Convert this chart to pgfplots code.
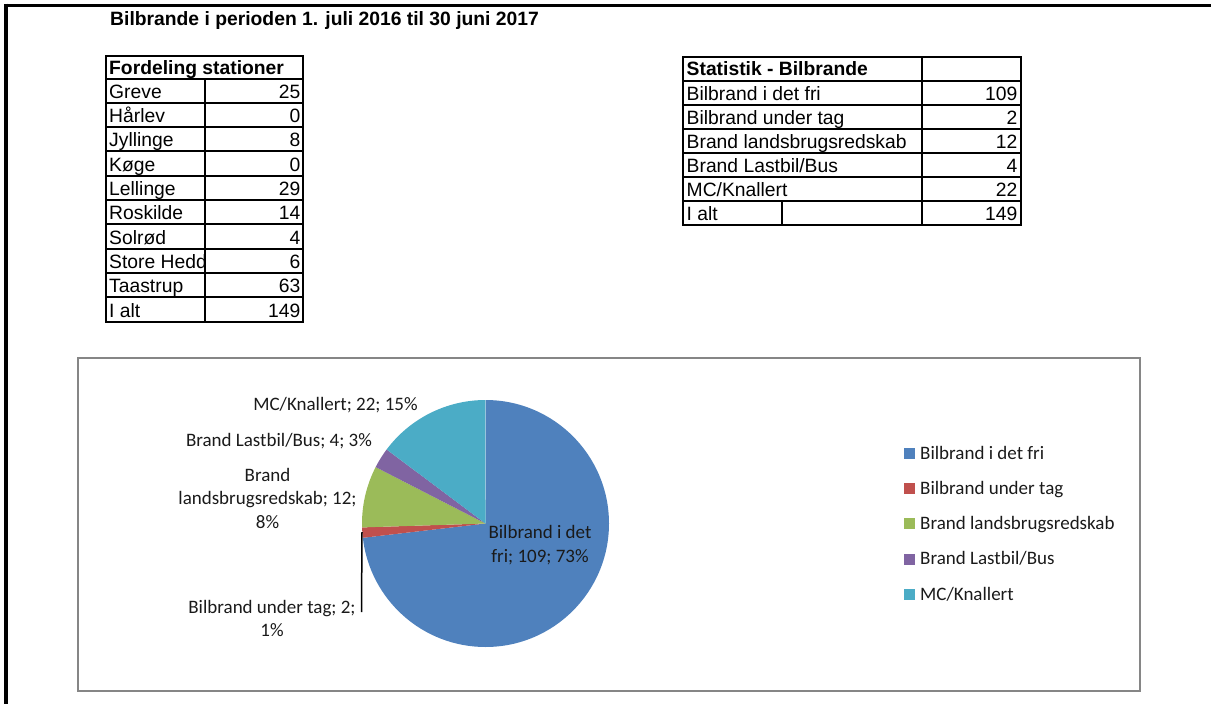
\documentclass[border=0pt]{standalone}
\usepackage{pgfplots}
\pgfplotsset{compat=1.18}
\usepackage{fontspec}
\setmainfont{Liberation Sans}
\newfontfamily\calibri{Carlito}

\definecolor{cA}{HTML}{4F81BD}
\definecolor{cB}{HTML}{C0504D}
\definecolor{cC}{HTML}{9BBB59}
\definecolor{cD}{HTML}{8064A2}
\definecolor{cE}{HTML}{4BACC6}
\definecolor{framegray}{HTML}{868686}
\definecolor{txt}{HTML}{1A1A1A}

\newcommand{\tf}{\fontsize{19.3}{22}\selectfont}
\newcommand{\lf}{\calibri\fontsize{19}{23}\selectfont}

% pie data (Statistik - Bilbrande)
\def\vA{109}% Bilbrand i det fri
\def\vB{2}%   Bilbrand under tag
\def\vC{12}%  Brand landsbrugsredskab
\def\vD{4}%   Brand Lastbil/Bus
\def\vE{22}%  MC/Knallert
\pgfmathsetmacro\tot{\vA+\vB+\vC+\vD+\vE}
\pgfmathsetmacro\aA{90}
\pgfmathsetmacro\aB{\aA-\vA/\tot*360}
\pgfmathsetmacro\aC{\aB-\vB/\tot*360}
\pgfmathsetmacro\aD{\aC-\vC/\tot*360}
\pgfmathsetmacro\aE{\aD-\vD/\tot*360}
\pgfmathsetmacro\aF{\aE-\vE/\tot*360}
\pgfmathsetmacro\xB{cos(\aB)}\pgfmathsetmacro\yB{sin(\aB)}
\pgfmathsetmacro\xC{cos(\aC)}\pgfmathsetmacro\yC{sin(\aC)}
\pgfmathsetmacro\xD{cos(\aD)}\pgfmathsetmacro\yD{sin(\aD)}
\pgfmathsetmacro\xE{cos(\aE)}\pgfmathsetmacro\yE{sin(\aE)}

\begin{document}
\begin{tikzpicture}
\begin{scope}[x=1pt,y=-1pt]
  \path[use as bounding box] (0,0) rectangle (1211,704);
  % page border
  \draw[line width=4pt] (6.3,3.5) -- (6.3,704);
  \draw[line width=3pt] (4.3,5.8) -- (1211,5.8);
  % title
  \node[anchor=base west, inner sep=0pt, font=\tf\bfseries] at (110,25.5)
    {Bilbrande i perioden 1. juli 2016 til 30 juni 2017};

  % left table
  \draw[line width=2pt] (106,56) rectangle (303,321.5);
  \foreach \i in {0,...,9} {\draw[line width=2pt] (106,78.5+24.3*\i) -- (303,78.5+24.3*\i);}
  \draw[line width=2pt] (205,78.5) -- (205,321.5);
  \node[anchor=base west, inner sep=0pt, font=\tf\bfseries] at (109,74) {Fordeling stationer};
  \foreach \n/\v [count=\i] in {Greve/25,Hårlev/0,Jyllinge/8,Køge/0,Lellinge/29,Roskilde/14,Solrød/4,Store Heddinge/6,Taastrup/63,I alt/149} {
    \begin{scope}
      \clip (107,78.5+24.3*\i-24.3) rectangle (204,78.5+24.3*\i);
      \node[anchor=base west, inner sep=0pt, font=\tf] at (109,78.5+24.3*\i-4.5) {\n};
    \end{scope}
    \node[anchor=base east, inner sep=0pt, font=\tf] at (300.5,78.5+24.3*\i-4.5) {\v};
  }

  % right table
  \draw[line width=2pt] (683,56.5) rectangle (1021,225.1);
  \foreach \i in {0,...,5} {\draw[line width=2pt] (683,80.5+24.1*\i) -- (1021,80.5+24.1*\i);}
  \draw[line width=2pt] (922,56.5) -- (922,225.1);
  \draw[line width=2pt] (782,201) -- (782,225.1);
  \node[anchor=base west, inner sep=0pt, font=\tf\bfseries] at (686.5,75.5) {Statistik - Bilbrande};
  \foreach \n/\v [count=\i] in {Bilbrand i det fri/109,Bilbrand under tag/2,Brand landsbrugsredskab/12,{Brand Lastbil/Bus}/4,{MC/Knallert}/22,I alt/149} {
    \node[anchor=base west, inner sep=0pt, font=\tf] at (686.5,80.5+24.1*\i-4.5) {\n};
    \node[anchor=base east, inner sep=0pt, font=\tf] at (1017.5,80.5+24.1*\i-4.5) {\v};
  }

  % chart frame
  \draw[framegray, line width=2pt] (77.5,357.5) rectangle (1140,690.5);
\end{scope}

\begin{axis}[
  at={(485.5pt,-523.5pt)}, anchor=origin,
  x=123.5pt, y=123.5pt,
  xmin=-1, xmax=1, ymin=-1, ymax=1,
  hide axis, clip=false,
  legend cell align=left,
  legend style={draw=none, fill=none, inner sep=0pt, anchor=west,
    at={(2.1943,0.498)}, row sep=20.4pt, column sep=5pt,
    nodes={inner sep=0pt, font=\lf, text=txt}},
  legend image code/.code={\fill (0pt,-5.5pt) rectangle (11pt,5.5pt);},
]
  \addplot[fill=cA, draw=none] coordinates {(0,0) (0,1)}
    arc[start angle=\aA, end angle=\aB, radius=123.5pt] -- cycle;
  \addlegendentry{Bilbrand i det fri}
  \addplot[fill=cB, draw=none] coordinates {(0,0) (\xB,\yB)}
    arc[start angle=\aB, end angle=\aC, radius=123.5pt] -- cycle;
  \addlegendentry{Bilbrand under tag}
  \addplot[fill=cC, draw=none] coordinates {(0,0) (\xC,\yC)}
    arc[start angle=\aC, end angle=\aD, radius=123.5pt] -- cycle;
  \addlegendentry{Brand landsbrugsredskab}
  \addplot[fill=cD, draw=none] coordinates {(0,0) (\xD,\yD)}
    arc[start angle=\aD, end angle=\aE, radius=123.5pt] -- cycle;
  \addlegendentry{Brand Lastbil/Bus}
  \addplot[fill=cE, draw=none] coordinates {(0,0) (\xE,\yE)}
    arc[start angle=\aE, end angle=\aF, radius=123.5pt] -- cycle;
  \addlegendentry{MC/Knallert}
\end{axis}

\begin{scope}[x=1pt,y=-1pt]
  % data labels
  \begin{scope}[every node/.style={anchor=base, inner sep=0pt, font=\lf, text=txt}]
    \node at (335.5,410) {MC/Knallert; 22; 15\%};
    \node at (279,446.5) {Brand Lastbil/Bus; 4; 3\%};
    \node at (267.5,481) {Brand};
    \node at (267.5,504.5) {landsbrugsredskab; 12;};
    \node at (267.5,528) {8\%};
    \node at (272,613) {Bilbrand under tag; 2;};
    \node at (272,636.5) {1\%};
    \node at (540,538) {Bilbrand i det};
    \node at (540,562) {fri; 109; 73\%};
  \end{scope}
  \draw[line width=1.5pt] (362,532) -- (361.5,612);
\end{scope}
\end{tikzpicture}
\end{document}
